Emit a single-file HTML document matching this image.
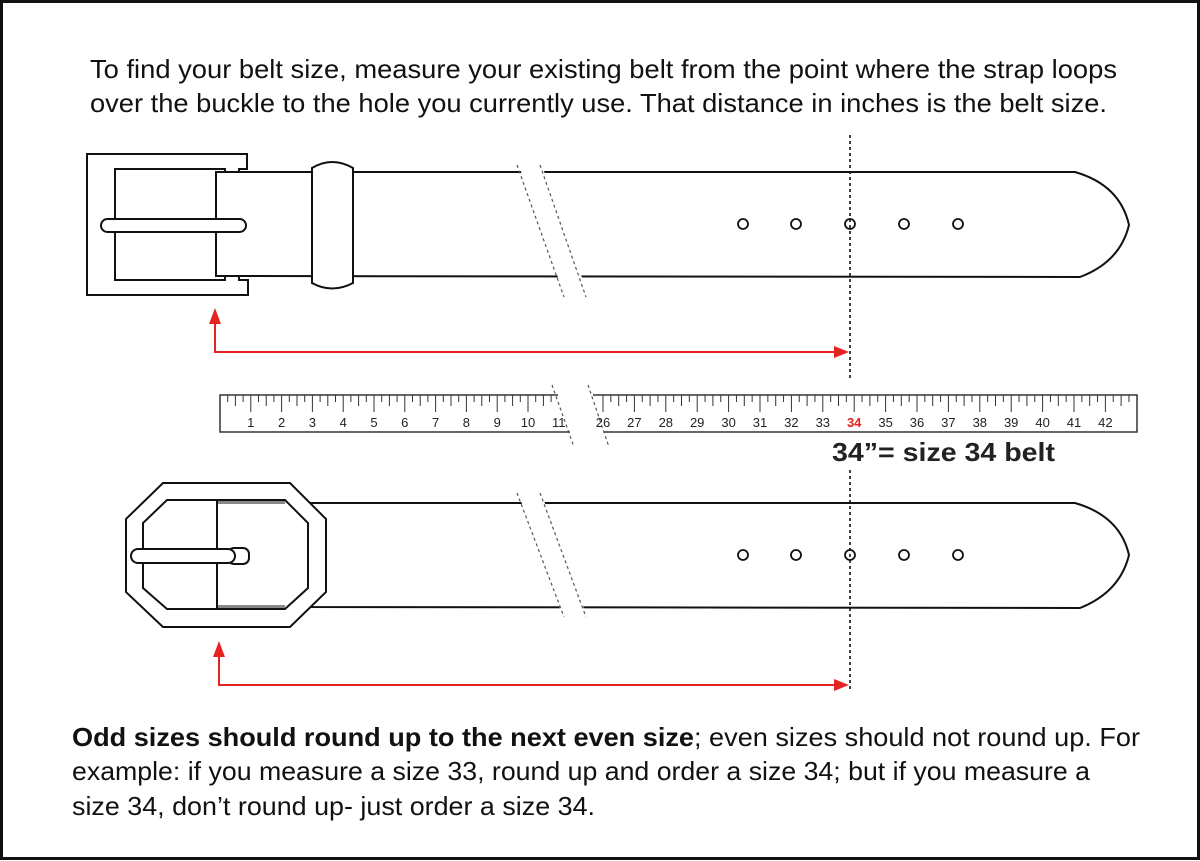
<!DOCTYPE html>
<html><head><meta charset="utf-8"><style>
html,body{margin:0;padding:0;background:#fff}
svg{display:block}
</style></head><body>
<svg width="1200" height="861" viewBox="0 0 1200 861" xmlns="http://www.w3.org/2000/svg">
<rect x="1.5" y="1.5" width="1197" height="857" fill="#fff" stroke="#111" stroke-width="3"/>
<g font-family="Liberation Sans, Arial, sans-serif" font-size="26" fill="#111">
<text x="90" y="78" textLength="1027" lengthAdjust="spacingAndGlyphs">To find your belt size, measure your existing belt from the point where the strap loops</text>
<text x="90" y="112" textLength="1017" lengthAdjust="spacingAndGlyphs">over the buckle to the hole you currently use. That distance in inches is the belt size.</text>
<text x="72" y="746" textLength="1068" lengthAdjust="spacingAndGlyphs"><tspan font-weight="bold">Odd sizes should round up to the next even size</tspan>; even sizes should not round up. For</text>
<text x="72" y="780" textLength="1018" lengthAdjust="spacingAndGlyphs">example: if you measure a size 33, round up and order a size 34; but if you measure a</text>
<text x="72" y="815" textLength="523" lengthAdjust="spacingAndGlyphs">size 34, don’t round up- just order a size 34.</text>
</g>

<!-- TOP BELT -->
<g fill="#fff" stroke="#111" stroke-width="2">
<path d="M216,172 L1075,172 Q1120,185 1129,225 Q1120,262 1080,277 L216,276 Z"/>
<path d="M87,154 L247,154 L247,169 L239,169 L239,172 L216,172 L216,276 L239,276 L239,280 L248,280 L248,295 L87,295 Z"/>
<path d="M115,169 L225,169 L225,172 L216,172 L216,276 L225,276 L225,280 L115,280 Z"/>
<rect x="101" y="219" width="145" height="13" rx="6.5"/>
<path d="M312,168 Q332,156 353,168 L353,283 Q332,294 312,283 Z"/>
</g>
<polygon points="517,160 540,160 590,300 566,300" fill="#fff"/>
<g stroke="#555" stroke-width="1.2" stroke-dasharray="3,3">
<line x1="517" y1="165" x2="564" y2="297"/>
<line x1="540" y1="165" x2="586" y2="297"/>
</g>
<g fill="none" stroke="#111" stroke-width="1.8">
<circle cx="743" cy="224" r="5"/><circle cx="796" cy="224" r="5"/><circle cx="850" cy="224" r="5"/><circle cx="904" cy="224" r="5"/><circle cx="958" cy="224" r="5"/>
</g>
<line x1="850" y1="135" x2="850" y2="380" stroke="#111" stroke-width="1.6" stroke-dasharray="3,3"/>
<g stroke="#e52421" stroke-width="2" fill="none"><path d="M215,322 L215,352 L838,352"/></g>
<polygon points="215,308 209,324 221,324" fill="#e52421"/>
<polygon points="849,352 834,346 834,358" fill="#e52421"/>

<!-- RULER -->
<path d="M558,395 L220,395 L220,432 L570,432" fill="none" stroke="#333" stroke-width="1.5"/>
<path d="M593,395 L1137,395 L1137,432 L604,432" fill="none" stroke="#333" stroke-width="1.5"/>
<g id="ticks" stroke="#333" stroke-width="1"></g>
<g font-family="Liberation Sans, Arial, sans-serif" font-size="13" fill="#222" text-anchor="middle" id="labels"></g>
<g stroke="#555" stroke-width="1.2" stroke-dasharray="3,3">
<line x1="552" y1="385" x2="574" y2="447"/>
<line x1="588" y1="385" x2="609" y2="447"/>
</g>
<text x="832" y="461" font-family="Liberation Sans, Arial, sans-serif" font-weight="bold" font-size="26" fill="#222" textLength="223" lengthAdjust="spacingAndGlyphs">34”= size 34 belt</text>

<!-- BOTTOM BELT -->
<g fill="#fff" stroke="#111" stroke-width="2">
<path d="M300,503 L1075,503 Q1120,516 1129,555 Q1120,592 1080,608 L300,607 Z"/>
<path d="M163,483 L290,483 L326,519 L326,592 L290,627 L163,627 L126,592 L126,519 Z"/>
<path d="M167,500 L285,500 L308,523 L308,588 L285,609 L167,609 L143,588 L143,523 Z"/>
</g>
<rect x="218" y="501" width="67" height="3" fill="#888"/>
<rect x="218" y="605" width="67" height="3" fill="#888"/>
<g fill="#fff" stroke="#111" stroke-width="2">
<line x1="217" y1="500" x2="217" y2="609"/>
<rect x="228" y="548" width="21" height="16" rx="6"/>
<rect x="131" y="549" width="104" height="14" rx="7"/>
</g>
<polygon points="517,490 540,490 590,625 566,625" fill="#fff"/>
<g stroke="#555" stroke-width="1.2" stroke-dasharray="3,3">
<line x1="517" y1="493" x2="564" y2="617"/>
<line x1="540" y1="493" x2="586" y2="617"/>
</g>
<g fill="none" stroke="#111" stroke-width="1.8">
<circle cx="743" cy="555" r="5"/><circle cx="796" cy="555" r="5"/><circle cx="850" cy="555" r="5"/><circle cx="904" cy="555" r="5"/><circle cx="958" cy="555" r="5"/>
</g>
<line x1="850" y1="470" x2="850" y2="692" stroke="#111" stroke-width="1.6" stroke-dasharray="3,3"/>
<g stroke="#e52421" stroke-width="2" fill="none"><path d="M219,656 L219,685 L838,685"/></g>
<polygon points="219,641 213,657 225,657" fill="#e52421"/>
<polygon points="849,685 834,679 834,691" fill="#e52421"/>

<script>
(function(){
var ns="http://www.w3.org/2000/svg";
var tg=document.getElementById("ticks"), lg=document.getElementById("labels");
function tick(x,len){var l=document.createElementNS(ns,"line");l.setAttribute("x1",x);l.setAttribute("x2",x);l.setAttribute("y1",395);l.setAttribute("y2",395+len);tg.appendChild(l);}
function lab(x,t,red){var e=document.createElementNS(ns,"text");e.setAttribute("x",x);e.setAttribute("y",427);e.textContent=t;if(red){e.setAttribute("fill","#e52421");e.setAttribute("font-weight","bold");}lg.appendChild(e);}
var s=30.8;
for(var q=1;q<=45;q++){var x=220+q*s/4; if(x>556)break; var len=(q%4==0)?17:(q%2==0?11:7); tick(x,len);}
for(var i=1;i<=11;i++){lab(220+i*s,String(i));}
var s2=31.4, base=603-26*s2;
for(var q=0;q<400;q++){var v=25*4+q; var x=base+v*s2/4; if(x<596)continue; if(x>1134)break; var len=(v%4==0)?17:(v%2==0?11:7); tick(x,len);}
for(var i=26;i<=42;i++){lab(base+i*s2,String(i),i==34);}
})();
</script>
</svg>
</body></html>
